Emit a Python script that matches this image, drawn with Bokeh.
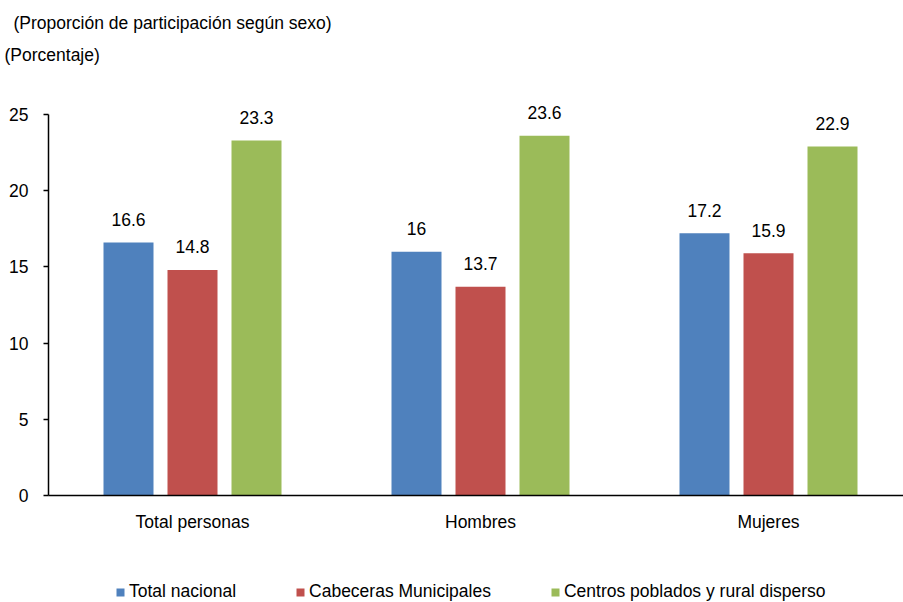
from bokeh.plotting import figure
from bokeh.layouts import column
from bokeh.models import ColumnDataSource, FixedTicker, Range1d, Legend, LegendItem, Label
from bokeh.transform import dodge
from bokeh.core.properties import value
from bokeh.embed import file_html
from bokeh.resources import INLINE

categories = ["Total personas", "Hombres", "Mujeres"]
series = ["Total nacional", "Cabeceras Municipales", "Centros poblados y rural disperso"]
total_nacional = [16.6, 16.0, 17.2]
cabeceras = [14.8, 13.7, 15.9]
centros = [23.3, 23.6, 22.9]
colors = ["#4F81BD", "#C0504D", "#9BBB59"]
y_ticks = [0, 5, 10, 15, 20, 25]
title_lines = ["(Proporción de participación según sexo)", "(Porcentaje)"]

FONT = "Liberation Sans"
FS = "17.5px"
W = 903
LEFT = 48


def bare_fig(h):
    f = figure(width=W, height=h, output_backend="svg", toolbar_location=None,
               x_range=Range1d(0, W), y_range=Range1d(0, h),
               x_axis_type=None, y_axis_type=None, min_border=0)
    f.outline_line_color = None
    f.xgrid.visible = False
    f.ygrid.visible = False
    return f


# frame alignment across the column (if available) is switched off for the strips
def unalign(f):
    if "frame_align" in f.properties():
        f.frame_align = False
        return 0
    return LEFT


# ---- title strip
TH = 80
tfig = bare_fig(TH)
dx_t = unalign(tfig)
tfig.add_layout(Label(x=13 - dx_t, y=TH - 22.5, x_units="screen", y_units="screen", text=title_lines[0],
                      text_font=FONT, text_font_size=FS, text_baseline="middle", text_color="black"))
tfig.add_layout(Label(x=4 - dx_t, y=TH - 54, x_units="screen", y_units="screen", text=title_lines[1],
                      text_font=FONT, text_font_size=FS, text_baseline="middle", text_color="black"))

# ---- main chart
xs = [i + 0.5 for i in range(len(categories))]
src = ColumnDataSource(dict(
    x=xs,
    tn=total_nacional, cb=cabeceras, cp=centros,
    tn_l=[f"{v:g}" for v in total_nacional],
    cb_l=[f"{v:g}" for v in cabeceras],
    cp_l=[f"{v:g}" for v in centros],
))

MH = 490
PX_PER_UNIT = 381 / 25
TOP_GAP = 34
p = figure(width=W, height=MH, output_backend="svg", toolbar_location=None,
           x_range=Range1d(0, 855 / 288), y_range=Range1d(0, 25 + TOP_GAP / PX_PER_UNIT),
           min_border_left=LEFT, min_border_right=0, min_border_top=0, min_border_bottom=75)
p.outline_line_color = None
p.xgrid.visible = False
p.ygrid.visible = False

bar_w = 50 / 288
off = 64 / 288
for col, offset, color in zip(["tn", "cb", "cp"], [-off, 0, off], colors):
    p.vbar(x=dodge("x", offset), top=col, width=bar_w, source=src,
           fill_color=color, line_color=None)
    p.text(x=dodge("x", offset), y=col, text=col + "_l", source=src,
           text_align="center", text_baseline="alphabetic", y_offset=-23,
           text_font=value(FONT), text_font_size=FS, text_color="black")

ya = p.yaxis[0]
ya.ticker = FixedTicker(ticks=y_ticks)
ya.bounds = (0, 25)
ya.major_tick_out = 5
ya.major_tick_in = 0
ya.minor_tick_line_color = None
ya.axis_line_width = 1.5
ya.axis_line_color = "black"
ya.major_tick_line_color = "black"
ya.major_tick_line_width = 1.5
ya.major_label_standoff = 15
ya.major_label_text_font = FONT
ya.major_label_text_font_size = FS
ya.major_label_text_color = "black"

xa = p.xaxis[0]
xa.ticker = FixedTicker(ticks=xs)
xa.major_label_overrides = {x: c for x, c in zip(xs, categories)}
xa.major_tick_out = 0
xa.major_tick_in = 0
xa.minor_tick_line_color = None
xa.axis_line_width = 1.5
xa.axis_line_color = "black"
xa.major_label_standoff = 16
xa.major_label_text_font = FONT
xa.major_label_text_font_size = FS
xa.major_label_text_color = "black"

# ---- legend strip
LH = 602 - TH - MH
lfig = bare_fig(LH)
dx_l = unalign(lfig)
items = []
for col, color, name in zip(["tn", "cb", "cp"], colors, series):
    r = lfig.vbar(x="x", top=col, width=bar_w, source=src, fill_color=color, line_color=None)
    r.visible = False
    items.append(LegendItem(label=name, renderers=[r]))
lg = Legend(items=items, location=(115 - dx_l, 0), orientation="horizontal",
            glyph_width=10, glyph_height=10, label_standoff=4, spacing=59,
            label_height=20, padding=0, margin=0, border_line_color=None,
            background_fill_alpha=0, label_text_font=FONT, label_text_font_size=FS,
            label_text_color="black", click_policy="none")
lfig.add_layout(lg)

layout = column(tfig, p, lfig, spacing=0)
open("out.html", "w").write(file_html(layout, INLINE))
